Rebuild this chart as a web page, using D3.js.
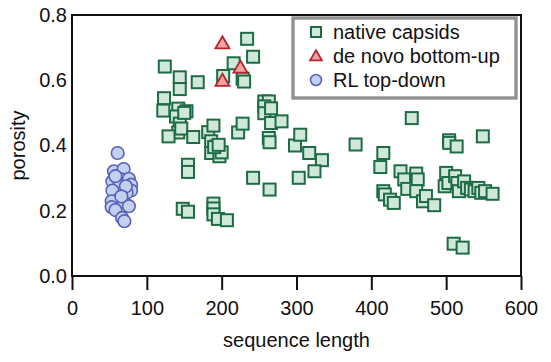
<!DOCTYPE html>
<html>
<head>
<meta charset="utf-8">
<script src="https://cdn.jsdelivr.net/npm/d3@7"></script>
<style>
  body { margin: 0; background: #fff; }
  text { font-family: "Liberation Sans", Arial, sans-serif; fill: #111; }
</style>
</head>
<body>
<svg id="chart" width="551" height="362"></svg>
<script>
// native capsids: [sequence length, porosity]
const nativeCapsids = [
  [124, 0.642], [144, 0.609], [144, 0.573], [168, 0.594], [123, 0.545], [122, 0.507],
  [142, 0.513], [153, 0.505], [139, 0.489], [144, 0.467], [142, 0.440], [129, 0.428],
  [146, 0.452], [150, 0.500], [162, 0.426], [182, 0.441], [189, 0.461], [186, 0.413],
  [193, 0.397], [186, 0.377], [197, 0.367], [200, 0.379], [155, 0.341], [155, 0.319],
  [148, 0.206], [155, 0.197], [189, 0.222], [189, 0.207], [189, 0.189], [195, 0.175],
  [207, 0.171], [202, 0.613], [216, 0.652], [228, 0.605], [230, 0.596], [234, 0.727],
  [242, 0.672], [222, 0.440], [228, 0.467], [242, 0.301], [257, 0.535], [263, 0.535],
  [257, 0.520], [257, 0.499], [266, 0.514], [266, 0.469], [280, 0.474], [263, 0.423],
  [264, 0.410], [264, 0.265], [298, 0.400], [305, 0.433], [317, 0.377], [334, 0.355],
  [324, 0.321], [303, 0.301], [379, 0.403], [454, 0.484], [416, 0.377], [412, 0.334],
  [416, 0.260], [418, 0.250], [425, 0.234], [430, 0.224], [439, 0.321], [444, 0.296],
  [448, 0.267], [460, 0.314], [462, 0.296], [460, 0.260], [469, 0.229], [473, 0.245],
  [484, 0.217], [504, 0.416], [504, 0.408], [514, 0.397], [549, 0.428], [500, 0.316],
  [498, 0.275], [503, 0.285], [512, 0.306], [515, 0.285], [517, 0.260], [524, 0.290],
  [528, 0.270], [533, 0.265], [538, 0.260], [543, 0.270], [547, 0.255], [552, 0.260],
  [562, 0.252], [510, 0.099], [522, 0.087], [190, 0.395], [196, 0.402]
];
// de novo bottom-up designs
const deNovo = [[201, 0.713], [201, 0.598], [225, 0.639]];
// RL top-down designs
const rlTopDown = [
  [61, 0.377], [56, 0.321], [69, 0.328], [54, 0.290], [66, 0.296], [76, 0.298],
  [79, 0.280], [63, 0.275], [54, 0.262], [79, 0.262], [73, 0.255], [63, 0.236],
  [53, 0.229], [69, 0.226], [76, 0.214], [53, 0.211], [58, 0.202], [67, 0.178],
  [70, 0.168], [58, 0.306], [72, 0.275], [66, 0.244]
];
const xTicks = [0, 100, 200, 300, 400, 500, 600];
const yTicks = [0.0, 0.2, 0.4, 0.6, 0.8];
const legendLabels = ["native capsids", "de novo bottom-up", "RL top-down"];

const svg = d3.select("#chart");
const mLeft = 72, mRight = 521, mTop = 15, mBottom = 276;
const fs = 20;

const x = d3.scaleLinear().domain([0, 600]).range([mLeft, mRight]);
const y = d3.scaleLinear().domain([0, 0.8]).range([mBottom, mTop]);

// x axis, ticks pointing down
const xAxis = svg.append("g")
  .attr("transform", `translate(0,${mBottom})`)
  .call(d3.axisBottom(x).tickValues(xTicks).tickSize(14).tickPadding(11).tickFormat(d3.format("d")));
xAxis.select(".domain").remove();
xAxis.selectAll("line").attr("stroke", "#111").attr("stroke-width", 2);
xAxis.selectAll("text").attr("font-size", fs);

// y axis labels only
const yAxis = svg.append("g")
  .attr("transform", `translate(${mLeft},0)`)
  .call(d3.axisLeft(y).tickValues(yTicks).tickSize(0).tickPadding(5).tickFormat(d3.format(".1f")));
yAxis.select(".domain").remove();
yAxis.selectAll("text").attr("font-size", fs);

// frame
svg.append("rect")
  .attr("x", mLeft).attr("y", mTop)
  .attr("width", mRight - mLeft).attr("height", mBottom - mTop)
  .attr("fill", "none").attr("stroke", "#111").attr("stroke-width", 2);

const styles = {
  sq: { fill: "#cfe8da", stroke: "#1d6c45" },
  tri: { fill: "#f2a3a5", stroke: "#b8262c" },
  circ: { fill: "#c3d1f1", stroke: "#5a61b6" }
};

const plot = svg.append("g");

plot.selectAll("rect.native")
  .data(nativeCapsids)
  .join("rect")
  .attr("class", "native")
  .attr("x", d => x(d[0]) - 6).attr("y", d => y(d[1]) - 6)
  .attr("width", 12).attr("height", 12)
  .attr("fill", styles.sq.fill).attr("stroke", styles.sq.stroke).attr("stroke-width", 2);

plot.selectAll("circle.rl")
  .data(rlTopDown)
  .join("circle")
  .attr("class", "rl")
  .attr("cx", d => x(d[0])).attr("cy", d => y(d[1]))
  .attr("r", 6.3)
  .attr("fill", styles.circ.fill).attr("stroke", styles.circ.stroke).attr("stroke-width", 1.6);

const tri = d3.symbol().type(d3.symbolTriangle).size(85);
plot.selectAll("path.denovo")
  .data(deNovo)
  .join("path")
  .attr("class", "denovo")
  .attr("transform", d => `translate(${x(d[0])},${y(d[1]) + 1})`)
  .attr("d", tri)
  .attr("fill", styles.tri.fill).attr("stroke", styles.tri.stroke).attr("stroke-width", 1.8);

// legend
const lg = svg.append("g");
lg.append("rect")
  .attr("x", 293).attr("y", 18).attr("width", 223).attr("height", 80)
  .attr("fill", "#fff").attr("stroke", "#666").attr("stroke-width", 3);
lg.append("rect")
  .attr("x", 293).attr("y", 18).attr("width", 223).attr("height", 80)
  .attr("fill", "none").attr("stroke", "#bbb").attr("stroke-width", 1);

const ly = [32, 56, 80];
lg.append("rect")
  .attr("x", 311).attr("y", ly[0] - 5).attr("width", 10).attr("height", 10)
  .attr("fill", styles.sq.fill).attr("stroke", styles.sq.stroke).attr("stroke-width", 2);
lg.append("path")
  .attr("transform", `translate(316,${ly[1] + 1})`)
  .attr("d", d3.symbol().type(d3.symbolTriangle).size(60))
  .attr("fill", styles.tri.fill).attr("stroke", styles.tri.stroke).attr("stroke-width", 1.8);
lg.append("circle")
  .attr("cx", 316).attr("cy", ly[2]).attr("r", 5.5)
  .attr("fill", styles.circ.fill).attr("stroke", styles.circ.stroke).attr("stroke-width", 1.6);

lg.selectAll("text.lab")
  .data(legendLabels)
  .join("text")
  .attr("class", "lab")
  .attr("x", 333).attr("y", (d, i) => ly[i] + 7)
  .attr("font-size", fs)
  .text(d => d);

// axis titles
svg.append("text")
  .attr("x", (mLeft + mRight) / 2).attr("y", 347)
  .attr("text-anchor", "middle").attr("font-size", fs)
  .text("sequence length");
svg.append("text")
  .attr("transform", `translate(25,${(mTop + mBottom) / 2}) rotate(-90)`)
  .attr("text-anchor", "middle").attr("font-size", fs)
  .text("porosity");
</script>
</body>
</html>
